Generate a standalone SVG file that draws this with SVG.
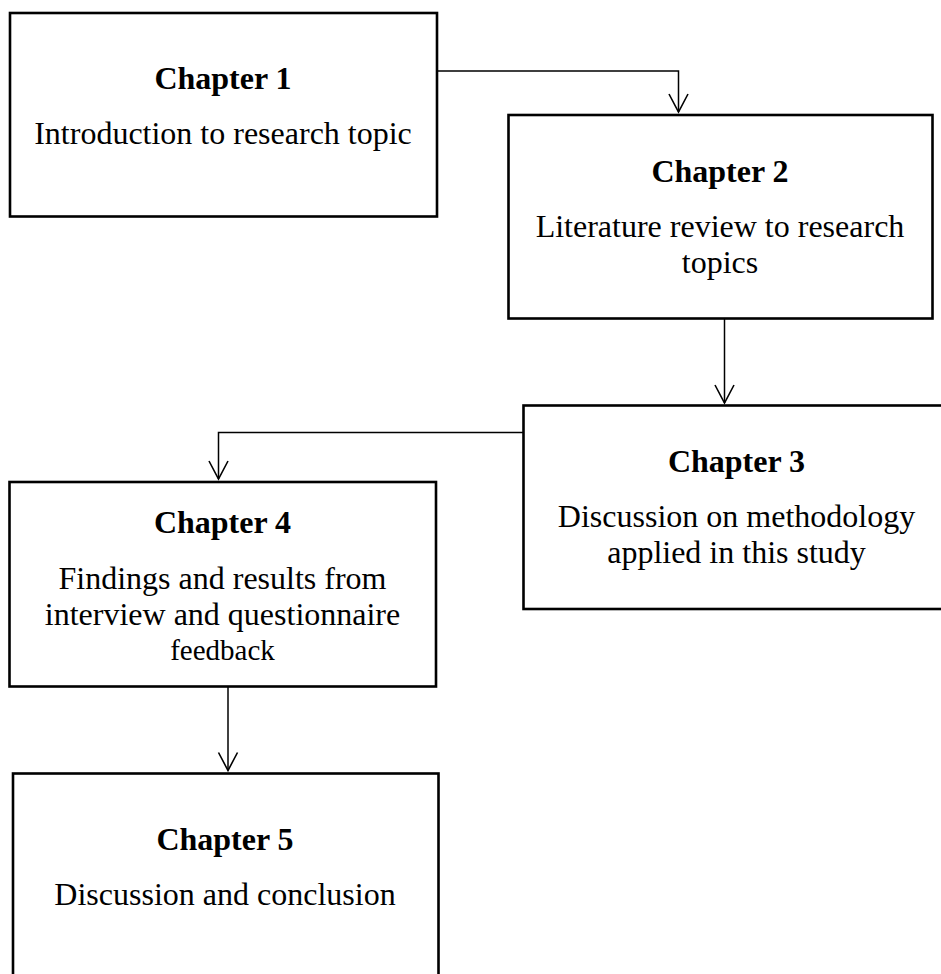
<svg xmlns="http://www.w3.org/2000/svg" width="941" height="974" viewBox="0 0 941 974">
<defs>
<marker id="arr" markerUnits="userSpaceOnUse" markerWidth="24" markerHeight="24" viewBox="-21 -12 24 24" refX="0" refY="0" orient="auto" overflow="visible">
<path d="M-18,-9.5 L0,0 L-18,9.5" fill="none" stroke="#000" stroke-width="1.6"/>
</marker>
<style>
.box{fill:#fff;stroke:#000;stroke-width:2.6}
.con{fill:none;stroke:#000;stroke-width:1.5}
.h{font-family:"Liberation Serif","Times New Roman",serif;font-weight:bold;font-size:32px;text-anchor:middle;fill:#000}
.t{font-family:"Liberation Serif","Times New Roman",serif;font-size:32px;text-anchor:middle;fill:#000}
.s{font-family:"Liberation Serif","Times New Roman",serif;font-size:29px;text-anchor:middle;fill:#000}
</style>
</defs>
<rect width="941" height="974" fill="#fff"/>
<g id="connectors">
<path class="con" d="M437,71 H678.5 V112" marker-end="url(#arr)"/>
<path class="con" d="M724.5,318 V403" marker-end="url(#arr)"/>
<path class="con" d="M523,432.5 H218.5 V479" marker-end="url(#arr)"/>
<path class="con" d="M228,684 V770.5" marker-end="url(#arr)"/>
</g>
<g id="chapter1">
<rect class="box" x="10" y="13" width="427" height="203.5"/>
<text class="h" x="223" y="89">Chapter 1</text>
<text class="t" x="223" y="144">Introduction to research topic</text>
</g>
<g id="chapter2">
<rect class="box" x="508.5" y="115" width="424" height="203.5"/>
<text class="h" x="720" y="181.5">Chapter 2</text>
<text class="t" x="720" y="237">Literature review to research</text>
<text class="t" x="720" y="273">topics</text>
</g>
<g id="chapter3">
<rect class="box" x="523.5" y="405.5" width="425" height="203.5"/>
<text class="h" x="736.5" y="472">Chapter 3</text>
<text class="t" x="736.5" y="527">Discussion on methodology</text>
<text class="t" x="736.5" y="562.5">applied in this study</text>
</g>
<g id="chapter4">
<rect class="box" x="9.5" y="482" width="426.5" height="204.5"/>
<text class="h" x="222.5" y="532.5">Chapter 4</text>
<text class="t" x="222.5" y="588.5">Findings and results from</text>
<text class="t" x="222.5" y="625">interview and questionnaire</text>
<text class="s" x="222.5" y="660">feedback</text>
</g>
<g id="chapter5">
<rect class="box" x="13" y="773.5" width="425.5" height="215"/>
<text class="h" x="225" y="849.5">Chapter 5</text>
<text class="t" x="225" y="905">Discussion and conclusion</text>
</g>
</svg>
